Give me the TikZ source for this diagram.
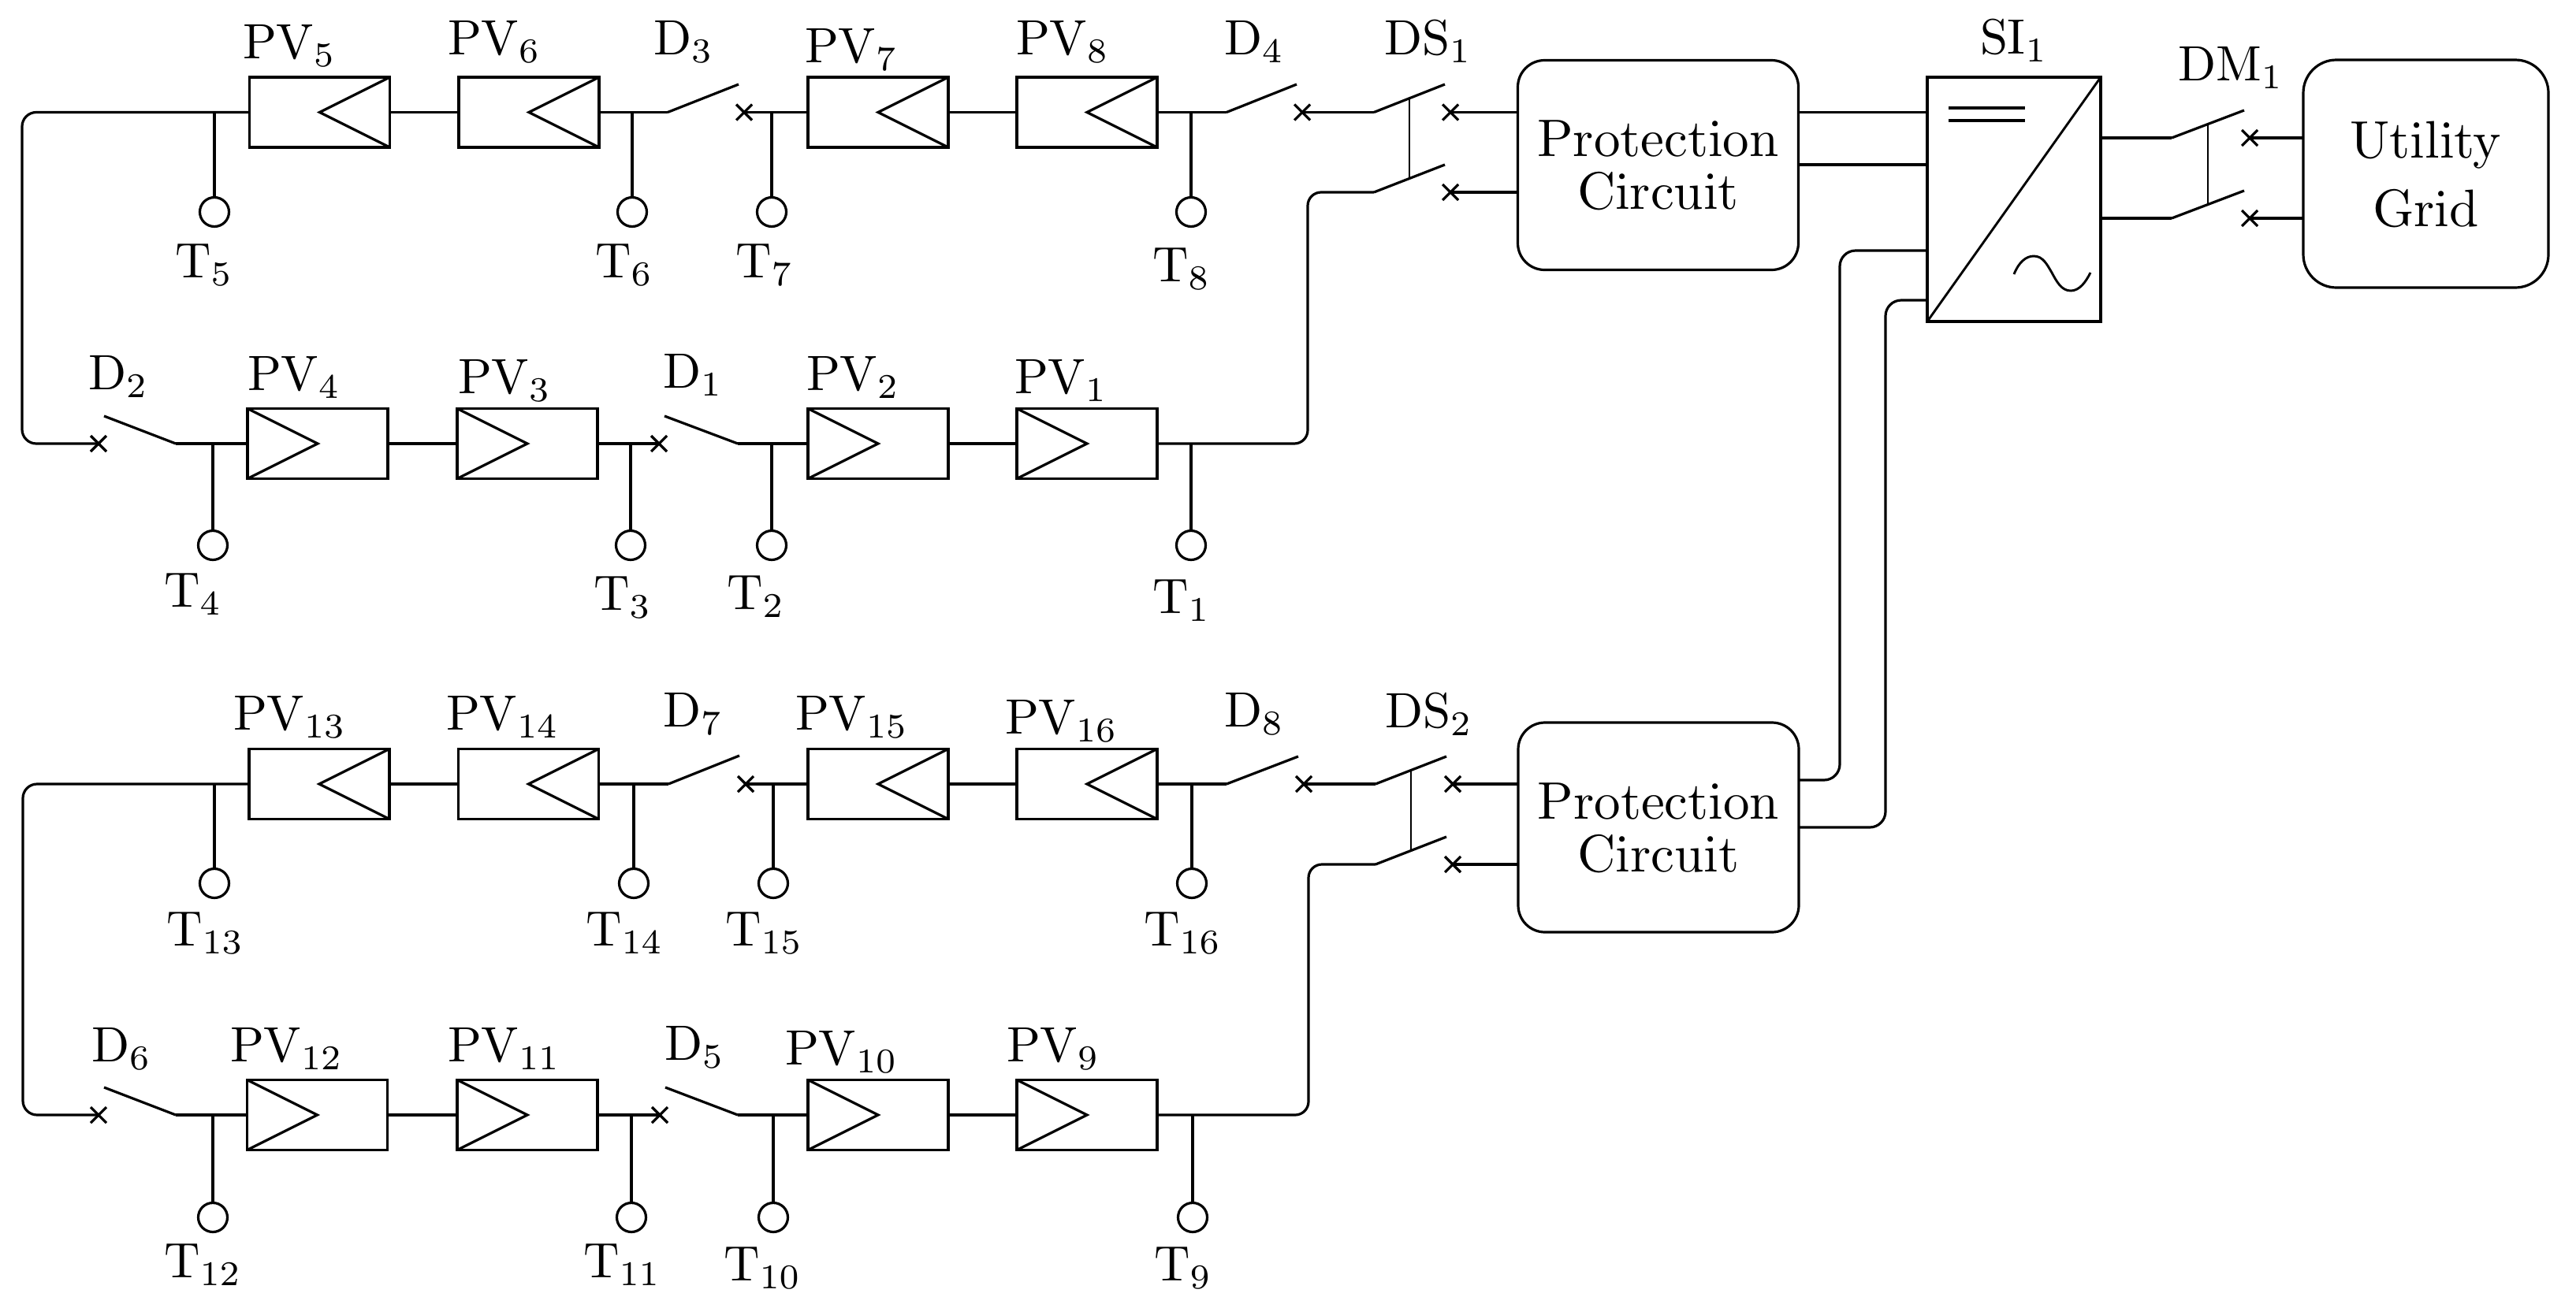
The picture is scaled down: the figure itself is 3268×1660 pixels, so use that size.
\documentclass[tikz,border=0pt]{standalone}
\usetikzlibrary{shapes.misc,calc}
\font\cmlab=cmr10 at 31.5pt
\font\cmsub=cmr7 at 22pt
\font\cmbox=cmr10 at 33.5pt
\newcommand{\subs}[1]{\raisebox{-5pt}{\cmsub #1}}
\tikzset{
  wire/.style={line width=1.6pt,line join=miter},
  thinwire/.style={line width=1.45pt},
  pvbox/.style={draw,line width=1.6pt,minimum width=89pt,minimum height=44.5pt,inner sep=0pt,outer sep=0pt,rectangle},
  term/.style={draw,line width=1.6pt,circle,minimum size=18.5pt,inner sep=0pt,outer sep=0pt},
  lbl/.style={anchor=base west,inner sep=0pt,outer sep=0pt,font=\cmlab},
  crossm/.style={draw,cross out,line width=1.6pt,minimum size=10pt,inner sep=0pt,outer sep=0pt},
  roundbox/.style={draw,line width=1.6pt,rectangle,rounded corners=17pt,align=center,inner sep=0pt,outer sep=0pt,
     minimum width=178pt,minimum height=133pt}
}
% left-pointing PV panel
\newcommand{\pvl}[3]{\node[pvbox] (#1) at (#2,#3) {};
  \draw[wire] (#1.north east) -- (#1.center) -- (#1.south east);}
% right-pointing PV panel
\newcommand{\pvr}[3]{\node[pvbox] (#1) at (#2,#3) {};
  \draw[wire] (#1.north west) -- (#1.center) -- (#1.south west);}
% name, hinge x, y, end x, end y, cross x
\newcommand{\swi}[6]{\coordinate (#1h) at (#2,#3); \coordinate (#1e) at (#4,#5);
  \node[crossm] (#1c) at (#6,#3) {};
  \draw[wire] (#1h) -- (#1e);}
% number, x, bus y, circle y, label x, label base
\newcommand{\tnd}[6]{\coordinate (J#1) at (#2,#3);
  \node[term] (T#1) at (#2,#4) {};
  \draw[wire] (J#1) -- (T#1);
  \node[lbl,xshift=-1pt] (LT#1) at (#5,#6) {T\subs{#1}};}
\newcommand{\lab}[5]{\node[lbl] (#1) at (#2,#3) {#4\subs{#5}};}
\begin{document}
\begin{tikzpicture}[x=0.5pt,y=-0.5pt]
\useasboundingbox (0,0) rectangle (3268,1660);
% ---- string 1, upper row
\pvl{PV5}{405.5}{142.5}\pvl{PV6}{671}{142.5}\pvl{PV7}{1114}{142.5}\pvl{PV8}{1379}{142.5}
\pvr{PV4}{403}{563}\pvr{PV3}{669}{563}\pvr{PV2}{1114}{563}\pvr{PV1}{1379}{563}
\swi{D3}{847}{142.5}{937}{107}{944}
\swi{D4}{1556}{142.5}{1645}{107}{1652}
\swi{D1}{936}{563}{843}{528}{836}
\swi{D2}{223}{563}{132}{528}{125}
\swi{DSa}{1743}{142.5}{1833}{107}{1840}
\swi{DSb}{1743}{244}{1833}{209}{1840}
\tnd{5}{272}{142.5}{269}{224}{352}
\tnd{6}{802}{142.5}{269}{757}{352}
\tnd{7}{979}{142.5}{269}{935}{352}
\tnd{8}{1511}{142.5}{269}{1464}{357}
\tnd{4}{270}{563}{692}{210}{770}
\tnd{3}{800}{563}{692}{755}{774}
\tnd{2}{979}{563}{692}{924}{773}
\tnd{1}{1511}{563}{692}{1464}{778}
\lab{LPV5}{308}{74}{PV}{5}
\lab{LPV6}{568}{69}{PV}{6}
\lab{LPV7}{1021}{79}{PV}{7}
\lab{LPV8}{1289}{69}{PV}{8}
\lab{LD3}{829}{69}{D}{3}
\lab{LD4}{1553}{69}{D}{4}
\lab{LDS1}{1756}{69}{DS}{1}
\lab{LD2}{112}{494}{D}{2}
\lab{LPV4}{314}{495}{PV}{4}
\lab{LPV3}{581}{499}{PV}{3}
\lab{LD1}{841}{492}{D}{1}
\lab{LPV2}{1023}{495}{PV}{2}
\lab{LPV1}{1287}{499}{PV}{1}
\coordinate (r1a) at (28,142.5); \coordinate (r1b) at (28,563);
\coordinate (r2a) at (1659,563); \coordinate (r2b) at (1659,244);
\draw[wire,rounded corners=9pt] (PV5.west) -- (r1a) -- (r1b) -- (D2c.center);
\draw[wire] (D2h) -- (PV4.west) (PV4.east) -- (PV3.west) (PV3.east) -- (D1c.center)
  (D1h) -- (PV2.west) (PV2.east) -- (PV1.west);
\draw[wire,rounded corners=8.5pt] (PV1.east) -- (r2a) -- (r2b) -- (DSbh);
\draw[wire] (PV5.east) -- (PV6.west) (PV6.east) -- (D3h) (D3c.center) -- (PV7.west)
  (PV7.east) -- (PV8.west) (PV8.east) -- (D4h) (D4c.center) -- (DSah);
\draw[thinwire] ($(DSah)!.5!(DSae)$) -- ($(DSbh)!.5!(DSbe)$);
% ---- string 2
\pvl{PV13}{405}{995}\pvl{PV14}{670.5}{995}\pvl{PV15}{1114}{995}\pvl{PV16}{1379}{995}
\pvr{PV12}{402.5}{1415}\pvr{PV11}{669}{1415}\pvr{PV10}{1114}{1415}\pvr{PV9}{1379}{1415}
\swi{D7}{848}{995}{938}{959}{946}
\swi{D8}{1556}{995}{1647}{960}{1654}
\swi{D5}{936}{1415}{844}{1380}{837}
\swi{D6}{223}{1415}{132}{1380}{125}
\swi{DTa}{1745}{995}{1835}{960}{1843}
\swi{DTb}{1745}{1097}{1835}{1062}{1843}
\tnd{13}{272}{995}{1121}{213}{1200}
\tnd{14}{804}{995}{1121}{745}{1200}
\tnd{15}{981}{995}{1121}{922}{1200}
\tnd{16}{1512}{995}{1121}{1453}{1200}
\tnd{12}{270}{1415}{1545}{210}{1621}
\tnd{11}{801}{1415}{1545}{742}{1621}
\tnd{10}{981}{1415}{1545}{920}{1625}
\tnd{9}{1513}{1415}{1545}{1466}{1625}
\lab{LPV13}{296}{926}{PV}{13}
\lab{LPV14}{566}{926}{PV}{14}
\lab{LPV15}{1009}{926}{PV}{15}
\lab{LPV16}{1275}{931}{PV}{16}
\lab{LD7}{841}{922}{D}{7}
\lab{LD8}{1553}{922}{D}{8}
\lab{LDS2}{1757}{923}{DS}{2}
\lab{LD6}{116}{1347}{D}{6}
\lab{LPV12}{292}{1347}{PV}{12}
\lab{LPV11}{568}{1347}{PV}{11}
\lab{LD5}{843}{1345}{D}{5}
\lab{LPV10}{996}{1351}{PV}{10}
\lab{LPV9}{1277}{1347}{PV}{9}
\coordinate (r3a) at (29,995); \coordinate (r3b) at (29,1415);
\coordinate (r4a) at (1660,1415); \coordinate (r4b) at (1660,1097);
\draw[wire,rounded corners=9pt] (PV13.west) -- (r3a) -- (r3b) -- (D6c.center);
\draw[wire] (D6h) -- (PV12.west) (PV12.east) -- (PV11.west) (PV11.east) -- (D5c.center)
  (D5h) -- (PV10.west) (PV10.east) -- (PV9.west);
\draw[wire,rounded corners=8.5pt] (PV9.east) -- (r4a) -- (r4b) -- (DTbh);
\draw[wire] (PV13.east) -- (PV14.west) (PV14.east) -- (D7h) (D7c.center) -- (PV15.west)
  (PV15.east) -- (PV16.west) (PV16.east) -- (D8h) (D8c.center) -- (DTah);
\draw[thinwire] ($(DTah)!.5!(DTae)$) -- ($(DTbh)!.5!(DTbe)$);
% ---- protection circuits
\node[roundbox,font={\cmbox\baselineskip=33.5pt\relax}] (PC1) at (2103.5,209.5) {Protection\\Circuit};
\node[roundbox,font={\cmbox\baselineskip=33.5pt\relax}] (PC2) at (2104,1050) {Protection\\Circuit};
\draw[wire] (DSac.center) -- (DSac.center -| PC1.west) (DSbc.center) -- (DSbc.center -| PC1.west);
\draw[wire] (DTac.center) -- (DTac.center -| PC2.west) (DTbc.center) -- (DTbc.center -| PC2.west);
% ---- inverter
\node[draw,line width=1.6pt,rectangle,minimum width=110pt,minimum height=155pt,inner sep=0pt,outer sep=0pt] (SI) at (2555,253) {};
\draw[thinwire] (SI.south west) -- (SI.north east);
\coordinate (eqa) at (2472,137); \coordinate (eqb) at (2569,137);
\coordinate (eqc) at (2472,153); \coordinate (eqd) at (2569,153);
\draw[wire] (eqa) -- (eqb) (eqc) -- (eqd);
\coordinate (sa) at (2555,348); \coordinate (sb) at (2580,325); \coordinate (sc) at (2603,346);
\coordinate (sd) at (2627,369); \coordinate (se) at (2652,346);
\draw[thinwire] (sa) .. controls (2561,333) and (2570,325) .. (sb)
  .. controls (2592,325) and (2597,336) .. (sc)
  .. controls (2609,357) and (2615,369) .. (sd)
  .. controls (2638,369) and (2646,358) .. (se);
\lab{LSI}{2512}{68}{SI}{1}
\coordinate (p1a) at (2281,142.5); \coordinate (p1b) at (2281,209);
\draw[wire] (p1a) -- (p1a -| SI.west) (p1b) -- (p1b -| SI.west);
\coordinate (p2a) at (2281,990); \coordinate (p2b) at (2281,1050);
\coordinate (f1a) at (2334,990); \coordinate (f1b) at (2334,318);
\coordinate (f2a) at (2392,1050); \coordinate (f2b) at (2392,381);
\draw[wire,rounded corners=10pt] (p2a) -- (f1a) -- (f1b) -- (f1b -| SI.west);
\draw[wire,rounded corners=10pt] (p2b) -- (f2a) -- (f2b) -- (f2b -| SI.west);
% ---- grid side
\swi{DMa}{2755}{175}{2847}{140}{2854}
\swi{DMb}{2755}{277}{2847}{242}{2854}
\draw[thinwire] ($(DMah)!.5!(DMae)$) -- ($(DMbh)!.5!(DMbe)$);
\node[roundbox,rounded corners=21pt,minimum width=155.5pt,minimum height=144.5pt,font={\cmbox\baselineskip=43.5pt\relax}] (UG) at (3077.5,220.5) {Utility\\Grid};
\draw[wire] (DMah -| SI.east) -- (DMah) (DMbh -| SI.east) -- (DMbh);
\draw[wire] (DMac.center) -- (DMac.center -| UG.west) (DMbc.center) -- (DMbc.center -| UG.west);
\lab{LDM}{2763}{102}{DM}{1}
\end{tikzpicture}
\end{document}
